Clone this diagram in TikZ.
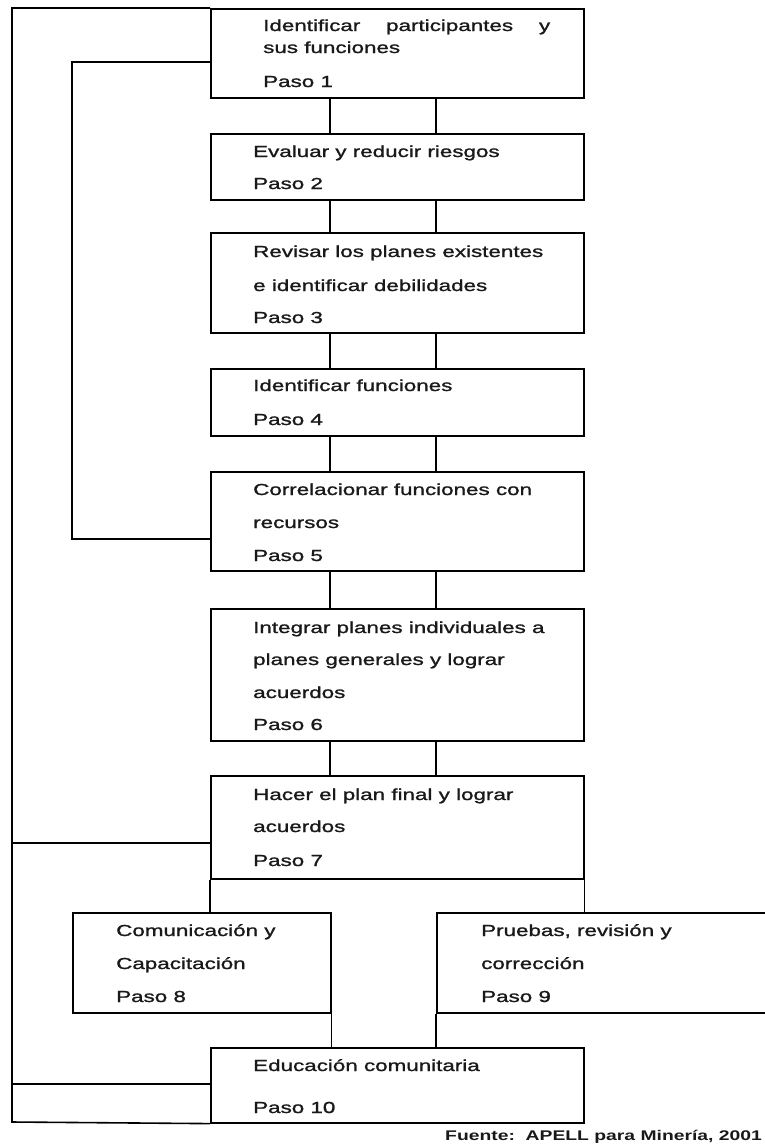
\documentclass[tikz,border=0pt]{standalone}
\usepackage{fontspec}
\setmainfont{Liberation Sans}[FakeStretch=1.4,FakeBold=1.3]
\newfontfamily\srcfont{Liberation Sans Bold}[FakeStretch=1.38]
\begin{document}
\begin{tikzpicture}[x=1pt,y=-1pt,
  box/.style={draw=black,line width=1.6pt,rectangle,inner sep=0pt,anchor=north west},
  txt/.style={anchor=base west,inner sep=0pt,text=black!90,font=\fontsize{16}{19}\selectfont},
  src/.style={anchor=base west,inner sep=0pt,text=black!90,font=\fontsize{14}{17}\srcfont},
  ln/.style={draw=black,line width=1.6pt}]
\useasboundingbox (0,0) rectangle (765,1144);
% boxes
\node[box,minimum width=373pt,minimum height=89pt] (b1) at (210,8) {};
\node[box,minimum width=373pt,minimum height=66pt] (b2) at (210,133) {};
\node[box,minimum width=373pt,minimum height=100pt] (b3) at (210,232) {};
\node[box,minimum width=373pt,minimum height=67pt] (b4) at (210,368) {};
\node[box,minimum width=373pt,minimum height=99pt] (b5) at (210,471) {};
\node[box,minimum width=373pt,minimum height=132pt] (b6) at (210,608) {};
\node[box,minimum width=373pt,minimum height=103pt] (b7) at (210,775) {};
\node[box,minimum width=258pt,minimum height=100pt] (b8) at (72,912) {};
\node[box,minimum width=334pt,minimum height=100pt] (b9) at (436,912) {};
\node[box,minimum width=373pt,minimum height=75pt] (b10) at (210,1047) {};
% coordinates
\coordinate (cL) at (330,0);
\coordinate (cR) at (436,0);
\coordinate (oTL) at (12,8);
\coordinate (oBL) at (12,1122);
\coordinate (i1) at (72,62);
\coordinate (i2) at (72,539);
\coordinate (o7) at (12,843);
\coordinate (o10) at (12,1084);
% connectors between steps
\foreach \a/\b in {b1/b2,b2/b3,b3/b4,b4/b5,b5/b6,b6/b7}{
  \draw[ln] (\a.south -| cL) -- (\b.north -| cL);
  \draw[ln] (\a.south -| cR) -- (\b.north -| cR);
}
\draw[ln] (b7.south west) -- (b8.north -| b7.south west);
\draw[ln] (b7.south east) -- (b9.north -| b7.south east);
\draw[ln] (b8.south east) -- (b10.north -| b8.south east);
\draw[ln] (b9.south west) -- (b10.north -| b9.south west);
% outer frame lines
\draw[ln] (b1.north west) -- (oTL) -- (oBL) -- (b10.south west);
\draw[ln] (o7) -- (b7.west |- o7);
\draw[ln] (o10) -- (b10.west |- o10);
% inner loop
\draw[ln] (b1.west |- i1) -- (i1) -- (i2) -- (b5.west |- i2);
% texts
\node[txt] (t1a) at (263,31) {\makebox[287pt][s]{Identificar participantes y}};
\node[txt] (t1b) at (263,53) {sus funciones};
\node[txt] (t1c) at (263,87) {Paso 1};
\node[txt] (t2a) at (253,157) {Evaluar y reducir riesgos};
\node[txt] (t2b) at (253,189) {Paso 2};
\node[txt] (t3a) at (253,257) {Revisar los planes existentes};
\node[txt] (t3b) at (253,291) {e identificar debilidades};
\node[txt] (t3c) at (253,323) {Paso 3};
\node[txt] (t4a) at (253,391) {Identificar funciones};
\node[txt] (t4b) at (253,425) {Paso 4};
\node[txt] (t5a) at (253,495) {Correlacionar funciones con};
\node[txt] (t5b) at (253,528) {recursos};
\node[txt] (t5c) at (253,561) {Paso 5};
\node[txt] (t6a) at (253,633) {Integrar planes individuales a};
\node[txt] (t6b) at (253,665) {planes generales y lograr};
\node[txt] (t6c) at (253,698) {acuerdos};
\node[txt] (t6d) at (253,730) {Paso 6};
\node[txt] (t7a) at (253,800) {Hacer el plan final y lograr};
\node[txt] (t7b) at (253,832) {acuerdos};
\node[txt] (t7c) at (253,866) {Paso 7};
\node[txt] (t8a) at (116,936) {Comunicación y};
\node[txt] (t8b) at (116,969) {Capacitación};
\node[txt] (t8c) at (116,1002) {Paso 8};
\node[txt] (t9a) at (481,936) {Pruebas, revisión y};
\node[txt] (t9b) at (481,969) {corrección};
\node[txt] (t9c) at (481,1002) {Paso 9};
\node[txt] (t10a) at (253,1071) {Educación comunitaria};
\node[txt] (t10b) at (253,1113) {Paso 10};
\node[src] (fu) at (445,1140) {Fuente:\ \ APELL para Minería, 2001};
\end{tikzpicture}
\end{document}
